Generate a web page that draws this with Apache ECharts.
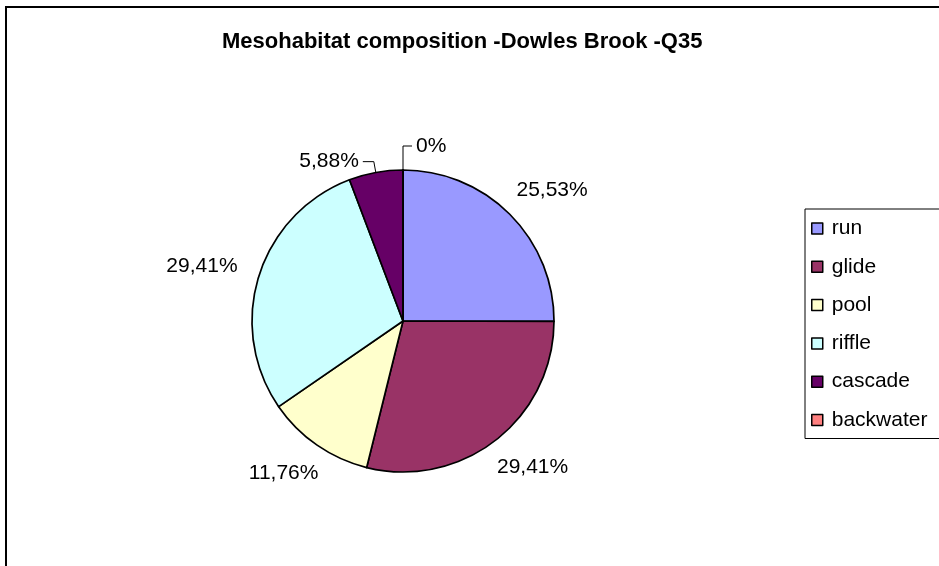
<!DOCTYPE html>
<html>
<head>
<meta charset="utf-8">
<script src="https://cdn.jsdelivr.net/npm/echarts@6/dist/echarts.min.js"></script>
<style>html,body{margin:0;padding:0;background:#fff;}#chart{width:939px;height:566px;}</style>
</head>
<body>
<div id="chart"></div>
<script>
// ---- data ----
const titleText = 'Mesohabitat composition -Dowles Brook -Q35';
const categories = ['run', 'glide', 'pool', 'riffle', 'cascade', 'backwater'];
const shares = [25.53, 29.41, 11.76, 29.41, 5.88, 0];
const calloutItems = ['cascade', 'backwater'];

// ---- styling ----
const colors = ['#9999FF', '#993366', '#FFFFCC', '#CCFFFF', '#660066', '#FF8080'];
const FONT = '"Liberation Sans", Arial, sans-serif';
const CX = 403, CY = 321, RADIUS = 151, R_LABEL = 175;
const leadRadial = { cascade: 11, backwater: 24 };
const leadHoriz = { cascade: 11, backwater: 9 };

function fmt(v) {
  return v === 0 ? '0%' : v.toFixed(2).replace('.', ',') + '%';
}

const data = categories.map((c, i) => ({
  name: c,
  value: shares[i],
  itemStyle: { color: colors[i] },
  labelLine: { show: calloutItems.includes(c) }
}));

const chart = echarts.init(document.getElementById('chart'), null, { renderer: 'canvas' });
chart.setOption({
  animation: false,
  backgroundColor: '#fff',
  title: {
    text: titleText,
    left: 222, top: 31, padding: 0,
    textStyle: { fontFamily: FONT, fontSize: 22, fontWeight: 'bold', color: '#000' }
  },
  graphic: [{
    type: 'rect', z: 100, silent: true,
    shape: { x: 6, y: 7, width: 1000, height: 1000 },
    style: { fill: 'none', stroke: '#000', lineWidth: 2 }
  }],
  legend: {
    orient: 'vertical',
    left: 805, top: 209,
    padding: [9, 40, 8, 6],
    itemGap: 17.3,
    itemWidth: 11, itemHeight: 11,
    icon: 'rect',
    borderColor: '#000', borderWidth: 1,
    itemStyle: { borderColor: '#000', borderWidth: 1.5 },
    textStyle: { fontFamily: FONT, fontSize: 21, color: '#000', padding: [0, 0, 0, 4] },
    data: categories
  },
  series: [{
    type: 'pie',
    center: [CX, CY],
    radius: RADIUS,
    startAngle: 90,
    clockwise: true,
    avoidLabelOverlap: false,
    itemStyle: { borderColor: '#000', borderWidth: 1.7 },
    label: {
      show: true, position: 'outside',
      fontFamily: FONT, fontSize: 21, color: '#000',
      formatter: p => fmt(p.value)
    },
    labelLine: { length: 10, length2: 10, lineStyle: { color: '#000', width: 1 } },
    labelLayout: function (p) {
      const pts = p.labelLinePoints;
      if (!pts) return {};
      const e = pts[0];
      const dx = e[0] - CX, dy = e[1] - CY;
      const r = Math.hypot(dx, dy) || 1;
      const ux = dx / r, uy = dy / r;
      const name = categories[p.dataIndex];
      if (calloutItems.includes(name)) {
        const side = ux < -1e-6 ? -1 : 1;
        const p1 = [e[0] + ux * leadRadial[name], e[1] + uy * leadRadial[name]];
        const p2 = [p1[0] + side * leadHoriz[name], p1[1]];
        return {
          x: p2[0] + side * 4, y: p2[1],
          align: side < 0 ? 'right' : 'left', verticalAlign: 'middle',
          labelLinePoints: [e, p1, p2]
        };
      }
      const w = p.labelRect.width, h = p.labelRect.height;
      return {
        x: CX + ux * R_LABEL + ux * w / 2,
        y: CY + uy * R_LABEL + uy * h / 2,
        align: 'center', verticalAlign: 'middle'
      };
    },
    data: data
  }]
});
</script>
</body>
</html>
